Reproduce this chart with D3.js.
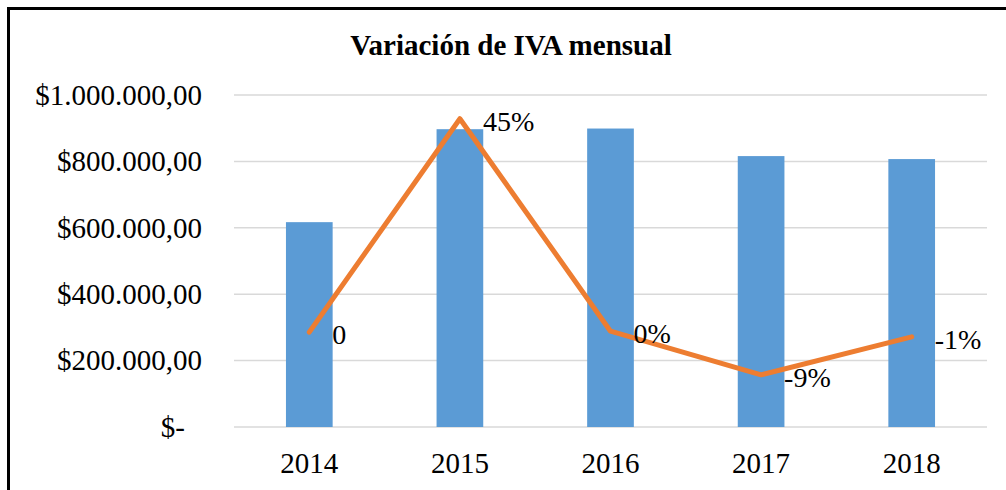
<!DOCTYPE html>
<html lang='es'>
<head>
  <meta charset='UTF-8'>
  <title>Variación de IVA mensual</title>
  <style>
    body { margin: 0; background: #fff; }
  </style>
</head>
<body>
  <script src='https://cdn.jsdelivr.net/npm/d3@7/dist/d3.min.js'></script>
  <script>
// datos
const years = ['2014', '2015', '2016', '2017', '2018'];
const ivaValues = [617000, 897000, 899000, 816000, 807000];   // IVA anual (barras)
const variation = [0, 0.45, 0.002, -0.09, -0.01];             // variación (línea)
const variationLabels = ['0', '45%', '0%', '-9%', '-1%'];
const yTicks = [0, 200000, 400000, 600000, 800000, 1000000];

const width = 1006;
const height = 490;
const serif = 'Liberation Serif, Times New Roman, Times, serif';

const svg = d3.select('body')
  .append('svg')
  .attr('width', width)
  .attr('height', height);

// marco
svg.append('rect')
  .attr('x', 8.5).attr('y', 8.5)
  .attr('width', 1100).attr('height', 600)
  .attr('fill', 'none')
  .attr('stroke', '#000')
  .attr('stroke-width', 3);

// título
svg.append('text')
  .attr('x', 511).attr('y', 55)
  .attr('text-anchor', 'middle')
  .attr('font-family', serif)
  .attr('font-size', 29)
  .attr('font-weight', 'bold')
  .text('Variación de IVA mensual');

const plotLeft = 234, plotRight = 987, plotTop = 95, plotBottom = 427;

const x = d3.scaleBand()
  .domain(years)
  .range([plotLeft, plotRight])
  .paddingInner(0.69)
  .paddingOuter(0.345);

const y = d3.scaleLinear().domain([0, 1000000]).range([plotBottom, plotTop]);
const y2 = d3.scaleLinear().domain([-0.2, 0.5]).range([plotBottom, plotTop]);  // eje secundario oculto

const money = v => v === 0 ? '$-' : '$' + d3.format(',.2f')(v).replace(/,/g, 'X').replace(/\./g, ',').replace(/X/g, '.');

// rejilla
svg.append('g')
  .selectAll('line')
  .data(yTicks)
  .enter()
  .append('line')
  .attr('x1', plotLeft).attr('x2', plotRight)
  .attr('y1', d => y(d)).attr('y2', d => y(d))
  .attr('stroke', '#d9d9d9')
  .attr('stroke-width', 1.5);

// eje Y
const yAxis = svg.append('g')
  .attr('transform', 'translate(' + plotLeft + ',0)')
  .call(d3.axisLeft(y).tickValues(yTicks).tickSize(0).tickPadding(32).tickFormat(money))
  .attr('font-family', serif)
  .attr('font-size', 29);
yAxis.select('.domain').remove();
yAxis.selectAll('text').attr('fill', '#000');
yAxis.selectAll('.tick').filter(d => d === 0).select('text').attr('x', -49);

// eje X
const xAxis = svg.append('g')
  .attr('transform', 'translate(0,' + plotBottom + ')')
  .call(d3.axisBottom(x).tickSize(0).tickPadding(25))
  .attr('font-family', serif)
  .attr('font-size', 29);
xAxis.select('.domain').remove();
xAxis.selectAll('text').attr('fill', '#000');

// barras
svg.append('g')
  .selectAll('rect')
  .data(ivaValues)
  .enter()
  .append('rect')
  .attr('x', (d, i) => x(years[i]))
  .attr('y', d => y(d))
  .attr('width', x.bandwidth())
  .attr('height', d => plotBottom - y(d))
  .attr('fill', '#5b9bd5');

// línea
const cx = i => x(years[i]) + x.bandwidth() / 2;
const line = d3.line()
  .x((d, i) => cx(i))
  .y(d => y2(d));

svg.append('path')
  .datum(variation)
  .attr('d', line)
  .attr('fill', 'none')
  .attr('stroke', '#ed7d31')
  .attr('stroke-width', 5)
  .attr('stroke-linejoin', 'round')
  .attr('stroke-linecap', 'round');

// etiquetas de la línea
svg.append('g')
  .attr('font-family', serif)
  .attr('font-size', 28)
  .selectAll('text')
  .data(variation)
  .enter()
  .append('text')
  .attr('x', (d, i) => cx(i) + 23)
  .attr('y', d => y2(d) + 2)
  .attr('dy', '0.35em')
  .text((d, i) => variationLabels[i]);
  </script>
</body>
</html>
